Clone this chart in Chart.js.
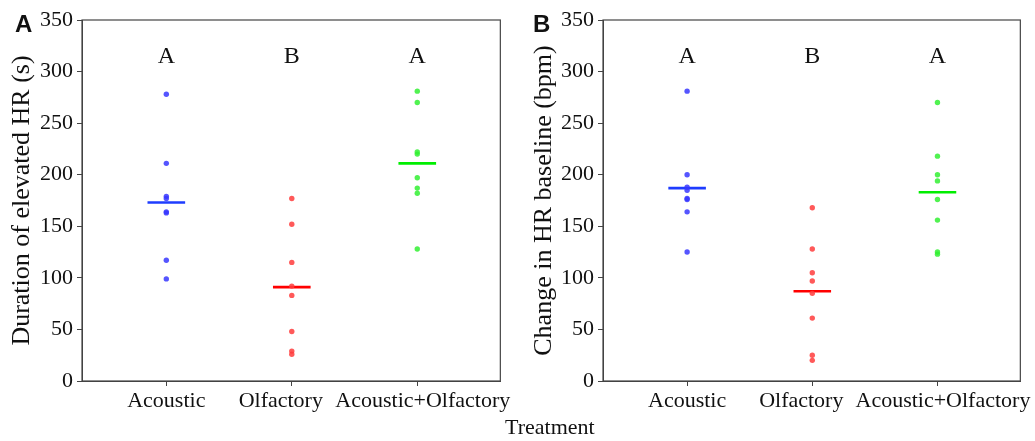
<!DOCTYPE html>
<html>
<head>
<meta charset="utf-8">
<script src="https://cdn.jsdelivr.net/npm/chart.js@4/dist/chart.umd.min.js"></script>
<style>
  body { margin: 0; background: #fff; width: 1035px; height: 441px; position: relative; overflow: hidden; }
  canvas { position: absolute; top: 0; }
  .panel-tag { position: absolute; top: 12px; font: bold 24px 'Liberation Sans', Arial, sans-serif; line-height: 24px; color: #111; }
  .x-title { position: absolute; left: 505px; top: 414px; font: 22px 'Liberation Serif', 'Times New Roman', serif; line-height: 26px; color: #111; }
</style>
</head>
<body>
<canvas id="chartA" width="515" height="441" style="left:0"></canvas>
<canvas id="chartB" width="520" height="441" style="left:515px"></canvas>
<div class="panel-tag" style="left:15px">A</div>
<div class="panel-tag" style="left:533px">B</div>
<div class="x-title">Treatment</div>
<script>
// ==================== 数据 ====================
const treatments = ['Acoustic', 'Olfactory', 'Acoustic+Olfactory'];
// 原图中间标签略向左偏移，用空格微调
const treatmentTickText = ['Acoustic', 'Olfactory    ', '  Acoustic+Olfactory'];
const groupLetters = ['A', 'B', 'A'];
const yTicks = [0, 50, 100, 150, 200, 250, 300, 350];

// Panel A: 心率升高持续时间 (s)
const durAcoustic = [278, 211, 179, 177, 164, 163, 117, 99];
const durOlfactory = [177, 152, 115, 92, 83, 48, 29, 26];
const durCombined = [281, 270, 222, 220, 197, 187, 182, 128];
const durMeans = [173, 91, 211];

// Panel B: 心率基线变化 (bpm)
const bpmAcoustic = [281, 200, 188, 185, 177, 176, 164, 125];
const bpmOlfactory = [168, 128, 105, 97, 85, 61, 25, 20];
const bpmCombined = [270, 218, 200, 194, 176, 156, 125, 123];
const bpmMeans = [187, 87, 183];

const pointColors = ['rgba(55, 55, 255, 0.85)', 'rgba(255, 60, 60, 0.85)', 'rgba(50, 240, 50, 0.85)'];
const lineColors = ['#1e3cff', '#ff0000', '#00ee00'];
const serif = "'Liberation Serif', 'Times New Roman', serif";

// ==================== 插件：外框 + 组别字母 ====================
const frameAndLetters = {
    id: 'frameAndLetters',
    afterDraw(chart) {
        const ctx = chart.ctx;
        const area = chart.chartArea;
        const xs = chart.scales.x, ys = chart.scales.y;
        ctx.save();
        ctx.strokeStyle = '#444';
        ctx.lineWidth = 1.2;
        ctx.strokeRect(area.left, area.top, area.right - area.left, area.bottom - area.top);
        ctx.fillStyle = '#111';
        ctx.font = '24px ' + serif;
        ctx.textAlign = 'center';
        ctx.textBaseline = 'middle';
        groupLetters.forEach((t, i) => {
            ctx.fillText(t, xs.getPixelForValue(i + 1), ys.getPixelForValue(314));
        });
        ctx.restore();
    }
};

// ==================== 绘制单个面板 ====================
function makePanel(id, yTitle, groups, means, plotLeft, plotRight, canvasWidth, titlePad) {
    const datasets = [];
    groups.forEach((vals, i) => {
        datasets.push({
            type: 'scatter',
            data: vals.map(v => ({ x: i + 1, y: v })),
            backgroundColor: pointColors[i],
            borderWidth: 0,
            pointRadius: 2.7
        });
        datasets.push({
            type: 'line',
            data: [{ x: i + 0.85, y: means[i] }, { x: i + 1.15, y: means[i] }],
            borderColor: lineColors[i],
            borderWidth: 2.6,
            pointRadius: 0,
            fill: false
        });
    });

    new Chart(document.getElementById(id), {
        type: 'scatter',
        data: { datasets: datasets },
        plugins: [frameAndLetters],
        options: {
            responsive: false,
            animation: false,
            layout: { padding: { left: 0, right: canvasWidth - plotRight, top: 20, bottom: 0 } },
            plugins: { legend: { display: false }, tooltip: { enabled: false } },
            scales: {
                x: {
                    type: 'linear',
                    min: 0.328,
                    max: 3.662,
                    afterBuildTicks: axis => { axis.ticks = [1, 2, 3].map(v => ({ value: v })); },
                    afterFit: axis => { axis.height = 60; },
                    grid: { drawOnChartArea: false, tickLength: 5, color: '#444' },
                    border: { color: '#444' },
                    ticks: {
                        autoSkip: false,
                        maxRotation: 0,
                        padding: 2,
                        color: '#111',
                        font: { family: serif, size: 22 },
                        callback: v => treatmentTickText[v - 1] || ''
                    }
                },
                y: {
                    min: 0,
                    max: 350,
                    afterBuildTicks: axis => { axis.ticks = yTicks.map(v => ({ value: v })); },
                    afterFit: axis => { axis.width = plotLeft; },
                    grid: { drawOnChartArea: false, tickLength: 5, color: '#444' },
                    border: { color: '#444' },
                    ticks: { padding: 4, color: '#111', font: { family: serif, size: 22 } },
                    title: {
                        display: true,
                        text: yTitle,
                        color: '#111',
                        font: { family: serif, size: 26 },
                        padding: { top: titlePad, bottom: 0 }
                    }
                }
            }
        }
    });
}

makePanel('chartA', 'Duration of elevated HR (s)', [durAcoustic, durOlfactory, durCombined], durMeans, 82, 501, 515, 7);
makePanel('chartB', 'Change in HR baseline (bpm)', [bpmAcoustic, bpmOlfactory, bpmCombined], bpmMeans, 88, 507, 520, 14);
</script>
</body>
</html>
